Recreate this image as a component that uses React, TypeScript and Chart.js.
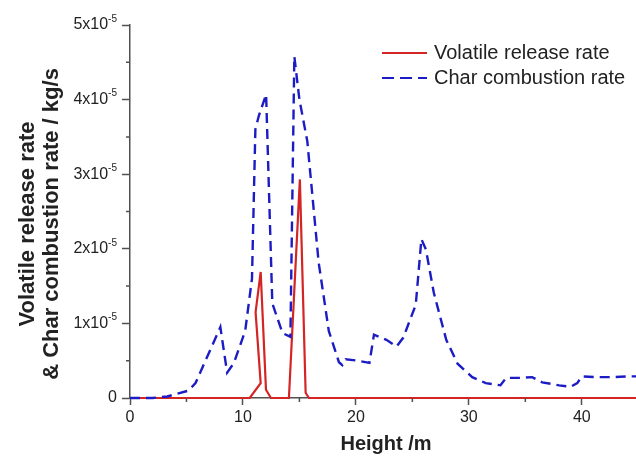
import React, { useEffect, useRef } from 'react';
import { Chart, registerables } from 'chart.js';

Chart.register(...registerables);

// Heights (m) and rates (in units of 1e-5 kg/s)
const volatileX = [0, 10.6, 11.57, 11.12, 11.57, 12.04, 12.48, 14.07, 15.04, 15.55, 15.84, 45];
const volatileY = [0, 0, 0.2, 1.15, 1.69, 0.11, 0, 0, 2.93, 0.07, 0, 0];

const charX = [0, 2, 3.3, 5.2, 5.8, 8.0, 8.6, 9.2, 10.2, 10.8, 11.1, 11.4, 12.05, 12.6, 13.5, 14.2, 14.55, 15.0, 15.7, 16.7, 17.6, 18.5, 18.8, 19.1, 20.2, 21.2, 21.6, 22.7, 23.6, 24.2, 25.3, 25.8, 26.2, 26.9, 28, 29, 30.3, 31.5, 32.8, 33.3, 34.7, 35.6, 36.5, 38, 39, 39.6, 40, 41.2, 42.7, 44.2, 45];
const charY = [0, 0, 0.02, 0.1, 0.2, 0.95, 0.34, 0.47, 0.9, 1.6, 3.6, 3.78, 4.07, 1.27, 0.87, 0.82, 4.58, 4.0, 3.44, 1.82, 0.9, 0.48, 0.44, 0.52, 0.5, 0.47, 0.85, 0.78, 0.69, 0.81, 1.25, 2.13, 1.99, 1.41, 0.78, 0.46, 0.28, 0.2, 0.17, 0.27, 0.27, 0.28, 0.21, 0.17, 0.15, 0.2, 0.29, 0.28, 0.28, 0.29, 0.29];

const seriesNames = ['Volatile release rate', 'Char combustion rate'];
const xTickValues = [0, 10, 20, 30, 40];
const xMinorValues = [5, 15, 25, 35];
const yTickValues = [0, 1, 2, 3, 4, 5];
const yMinorValues = [0.5, 1.5, 2.5, 3.5, 4.5];
const yExponent = '-5';
const xTitle = 'Height /m';
const yTitleLines = ['Volatile release rate', '& Char combustion rate / kg/s'];

const RED = '#d42424';
const BLUE = '#1c1cc4';
const AXIS = '#505050';
const TEXT = '#222222';
const FONT = '"Liberation Sans", Arial, sans-serif';

const overlayPlugin = {
  id: 'overlay',
  afterDraw(chart: any) {
    const ctx = chart.ctx as CanvasRenderingContext2D;
    const xs = chart.scales.x;
    const ys = chart.scales.y;
    const area = chart.chartArea;
    ctx.save();
    // minor ticks
    ctx.strokeStyle = AXIS;
    ctx.lineWidth = 1.5;
    ctx.beginPath();
    xMinorValues.forEach((v) => {
      const px = xs.getPixelForValue(v);
      ctx.moveTo(px, area.bottom);
      ctx.lineTo(px, area.bottom + 4);
    });
    yMinorValues.forEach((v) => {
      const py = ys.getPixelForValue(v);
      ctx.moveTo(area.left, py);
      ctx.lineTo(area.left - 4, py);
    });
    ctx.stroke();

    // y tick labels with superscript
    ctx.fillStyle = TEXT;
    ctx.textBaseline = 'middle';
    const labelRight = area.left - 13;
    yTickValues.forEach((v) => {
      const py = ys.getPixelForValue(v);
      if (v === 0) {
        ctx.font = `16px ${FONT}`;
        ctx.textAlign = 'right';
        ctx.fillText('0', labelRight, py);
      } else {
        ctx.font = `10px ${FONT}`;
        ctx.textAlign = 'right';
        const supW = ctx.measureText(yExponent).width;
        ctx.fillText(yExponent, labelRight, py - 6);
        ctx.font = `16px ${FONT}`;
        ctx.fillText(`${v}x10`, labelRight - supW, py);
      }
    });

    // axis titles
    ctx.font = `bold 20px ${FONT}`;
    ctx.textAlign = 'center';
    ctx.textBaseline = 'middle';
    ctx.fillText(xTitle, 386, 444);

    ctx.save();
    ctx.translate(28, 224);
    ctx.rotate(-Math.PI / 2);
    ctx.font = `bold 22px ${FONT}`;
    ctx.fillText(yTitleLines[0], 0, 0);
    ctx.fillText(yTitleLines[1], 0, 24);
    ctx.restore();

    // legend
    ctx.lineWidth = 2.2;
    ctx.strokeStyle = RED;
    ctx.setLineDash([]);
    ctx.beginPath();
    ctx.moveTo(382, 53);
    ctx.lineTo(427, 53);
    ctx.stroke();
    ctx.strokeStyle = BLUE;
    ctx.setLineDash([12, 6]);
    ctx.beginPath();
    ctx.moveTo(382, 78);
    ctx.lineTo(427, 78);
    ctx.stroke();
    ctx.setLineDash([]);
    ctx.font = `20px ${FONT}`;
    ctx.textAlign = 'left';
    ctx.textBaseline = 'middle';
    ctx.fillStyle = TEXT;
    ctx.fillText(seriesNames[0], 434, 53);
    ctx.fillText(seriesNames[1], 434, 78);
    ctx.restore();
  },
};

export default function App() {
  const ref = useRef<HTMLCanvasElement | null>(null);

  useEffect(() => {
    if (!ref.current) return;
    const chart = new Chart(ref.current, {
      type: 'line',
      data: {
        datasets: [
          {
            label: seriesNames[0],
            data: volatileX.map((x, i) => ({ x, y: volatileY[i] })),
            borderColor: RED,
            borderWidth: 2.2,
            pointRadius: 0,
            tension: 0,
            fill: false,
            clip: false,
            order: 1,
          },
          {
            label: seriesNames[1],
            data: charX.map((x, i) => ({ x, y: charY[i] })),
            borderColor: BLUE,
            borderWidth: 2.4,
            borderDash: [10, 6],
            pointRadius: 0,
            tension: 0,
            fill: false,
            clip: { left: 2, top: 2, right: 2, bottom: 3 },
            order: 0,
          },
        ],
      },
      options: {
        animation: false,
        responsive: false,
        devicePixelRatio: 1,
        layout: { padding: { top: 25, left: 0, right: 0, bottom: 0 } },
        plugins: { legend: { display: false }, tooltip: { enabled: false } },
        scales: {
          x: {
            type: 'linear',
            min: 0,
            max: 44.8,
            afterBuildTicks: (scale: any) => {
              scale.ticks = xTickValues.map((v) => ({ value: v }));
            },
            afterFit: (scale: any) => {
              scale.height = 59;
            },
            ticks: {
              stepSize: 10,
              autoSkip: false,
              maxRotation: 0,
              padding: 3,
              color: TEXT,
              font: { family: FONT, size: 16 },
            },
            grid: { drawOnChartArea: false, drawTicks: true, tickLength: 7, tickColor: AXIS, tickWidth: 1.5 },
            border: { color: AXIS, width: 1.5 },
          },
          y: {
            type: 'linear',
            min: 0,
            max: 5,
            afterBuildTicks: (scale: any) => {
              scale.ticks = yTickValues.map((v) => ({ value: v }));
            },
            afterFit: (scale: any) => {
              scale.width = 130;
            },
            ticks: {
              stepSize: 1,
              callback: () => '',
            },
            grid: { drawOnChartArea: false, drawTicks: true, tickLength: 8, tickColor: AXIS, tickWidth: 1.5 },
            border: { color: AXIS, width: 1.5 },
          },
        },
      },
      plugins: [overlayPlugin],
    });
    return () => chart.destroy();
  }, []);

  return (
    <div style={{ position: 'fixed', left: 0, top: 0, width: 636, height: 457, background: '#fff' }}>
      <canvas ref={ref} width={636} height={457} style={{ display: 'block', width: 636, height: 457 }} />
    </div>
  );
}
